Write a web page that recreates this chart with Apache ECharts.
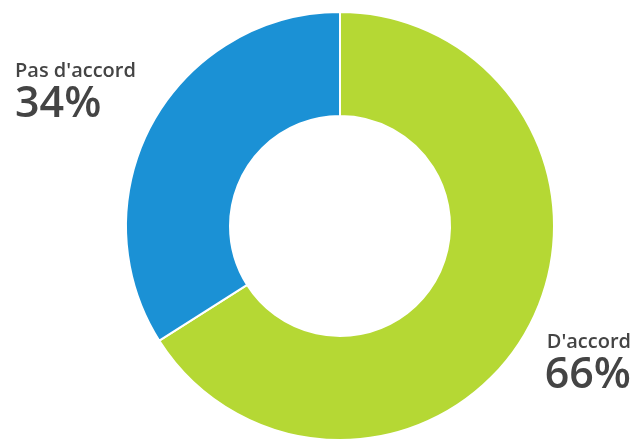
<!DOCTYPE html>
<html>
<head>
<meta charset="utf-8">
<script src="https://cdn.jsdelivr.net/npm/echarts@6/dist/echarts.min.js"></script>
<style>
html,body{margin:0;padding:0;background:#fff;}
#chart{width:636px;height:442px;}
</style>
</head>
<body>
<div id="chart"></div>
<script>
// Survey answer shares (percent)
const categories = ["D'accord", "Pas d'accord"];
const values = [66, 34];
const colors = ['#B5D834', '#1B91D5'];

// Where each answer's caption sits
const labelSpots = {
  "D'accord": { x: 631, y: 329, align: 'right' },
  "Pas d'accord": { x: 15, y: 58, align: 'left' }
};

const chart = echarts.init(document.getElementById('chart'), null, { renderer: 'canvas' });

chart.setOption({
  animation: false,
  series: [{
    type: 'pie',
    center: [340, 226],
    radius: [110, 214],
    startAngle: 90,
    clockwise: true,
    itemStyle: { borderColor: '#fff', borderWidth: 2 },
    label: {
      show: true,
      overflow: 'none',
      formatter: p => '{n|' + p.name + '}\n{v|' + p.value + '%}',
      rich: {
        n: { fontFamily: 'Open Sans', fontSize: 20, fontWeight: 600, color: '#444', lineHeight: 26 },
        v: { fontFamily: 'Open Sans', fontSize: 43, fontWeight: 600, color: '#444', lineHeight: 42 }
      }
    },
    labelLine: { show: false },
    labelLayout: params => {
      const s = labelSpots[categories[params.dataIndex]];
      return { x: s.x, y: s.y, align: s.align, verticalAlign: 'top', width: 200 };
    },
    emphasis: { disabled: true },
    data: categories.map((c, i) => ({ name: c, value: values[i], itemStyle: { color: colors[i] } }))
  }]
});
</script>
</body>
</html>
